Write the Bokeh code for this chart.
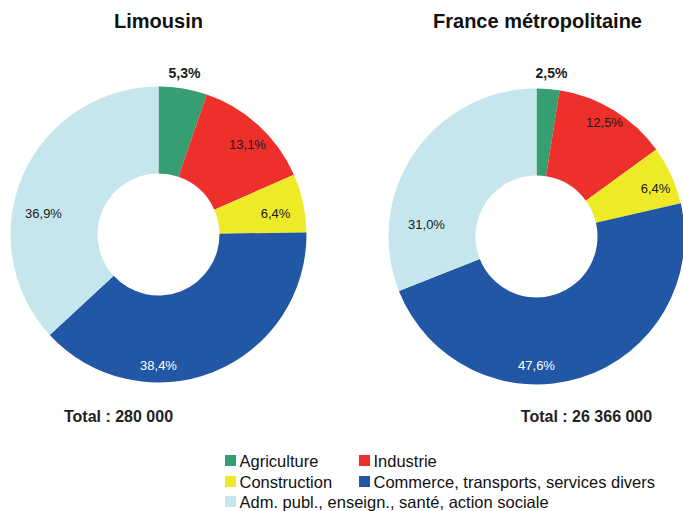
import math
from bokeh.plotting import figure
from bokeh.models import Range1d, ColumnDataSource
from bokeh.core.properties import value
from bokeh.embed import file_html
from bokeh.resources import INLINE

# ---- data ----
categories = ["Agriculture", "Industrie", "Construction",
              "Commerce, transports, services divers",
              "Adm. publ., enseign., santé, action sociale"]
colors = ["#369e70", "#ee302c", "#eeea28", "#2157a5", "#c5e6ec"]
limousin = [5.3, 13.1, 6.4, 38.4, 36.9]
france = [2.5, 12.5, 6.4, 47.6, 31.0]
titles = ["Limousin", "France métropolitaine"]
totals = ["Total : 280 000", "Total : 26 366 000"]

# ---- layout (screen pixels; data y = -screen y) ----
W, H = 683, 511
centers = [(158, 234), (536, 236)]
R_OUT, R_IN = 148, 61
# label offsets (dx, dy up) relative to donut center
label_off = [
    [(26, 162), (89, 90), (117, 21), (0, -131), (-115, 21)],
    [(15, 164), (68, 114), (119, 48), (0, -129), (-110, 12)],
]
label_color = ["#1a1a1a", "#1a1a1a", "#1a1a1a", "#ffffff", "#1a1a1a"]
label_bold = [True, False, False, False, False]
title_pos = [(158, 20), (537, 20)]
total_pos = [(118, 416), (586, 416)]

FONT = value("Liberation Sans")

p = figure(width=W, height=H, output_backend="svg", toolbar_location=None,
           x_range=Range1d(0, W), y_range=Range1d(-H, 0),
           min_border=0)
p.axis.visible = False
p.grid.visible = False
p.outline_line_color = None
p.background_fill_color = "white"
p.border_fill_color = "white"

for k, vals in enumerate([limousin, france]):
    cx, cy = centers[k]
    tot = sum(vals)
    starts, ends = [], []
    cum = 0.0
    for v in vals:
        a0 = math.pi / 2 - 2 * math.pi * cum / tot
        cum += v
        a1 = math.pi / 2 - 2 * math.pi * cum / tot
        starts.append(a1)
        ends.append(a0)
    src = ColumnDataSource(dict(x=[cx] * len(vals), y=[-cy] * len(vals),
                                s=starts, e=ends, c=colors))
    p.annular_wedge(x="x", y="y", inner_radius=R_IN, outer_radius=R_OUT,
                    start_angle="s", end_angle="e", fill_color="c",
                    line_color=None, source=src)
    labels = [("%.1f" % v).replace(".", ",") + "%" for v in vals]
    for i, lab in enumerate(labels):
        dx, dy = label_off[k][i]
        p.text(x=[cx + dx], y=[-cy + dy], text=[lab], text_font=FONT,
               text_font_size="14px" if label_bold[i] else "13px",
               text_font_style="bold" if label_bold[i] else "normal",
               text_color=label_color[i], text_align="center",
               text_baseline="middle")
    tx, ty = title_pos[k]
    p.text(x=[tx], y=[-ty], text=[titles[k]], text_font=FONT,
           text_font_size="20px", text_font_style="bold", text_color="#111111",
           text_align="center", text_baseline="middle")
    ox, oy = total_pos[k]
    p.text(x=[ox], y=[-oy], text=[totals[k]], text_font=FONT,
           text_font_size="16px", text_font_style="bold", text_color="#222222",
           text_align="center", text_baseline="middle")

# ---- legend ----
col_x = [230, 364]
row_y = [460, 481, 501]
lx, ly, lt, lc = [], [], [], []
for i, cat in enumerate(categories):
    r, c = divmod(i, 2)
    lx.append(col_x[c])
    ly.append(-row_y[r])
    lt.append(cat)
    lc.append(colors[i])
lsrc = ColumnDataSource(dict(x=lx, y=ly, t=lt, c=lc,
                             tx=[x + 9 for x in lx]))
p.rect(x="x", y="y", width=11, height=11, fill_color="c", line_color=None,
       source=lsrc)
p.text(x="tx", y="y", text="t", text_font=FONT, text_font_size="16.5px",
       text_color="#111111", text_align="left", text_baseline="middle",
       source=lsrc)

open("out.html", "w").write(file_html(p, INLINE))
